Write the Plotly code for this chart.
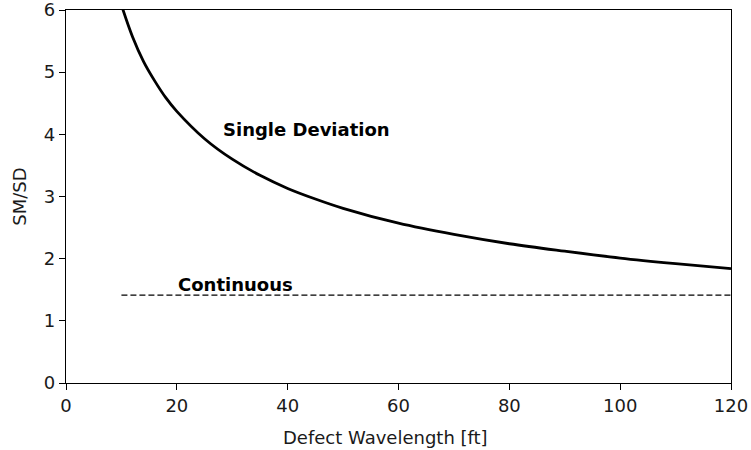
import plotly.graph_objects as go

# Data
wavelength_ft = [10, 12, 14, 16, 18, 20, 25, 30, 35, 40, 45, 50, 60, 70, 80, 90, 100, 110, 120]
single_deviation = [6.08, 5.57, 5.17, 4.86, 4.59, 4.37, 3.93, 3.60, 3.34, 3.13, 2.96, 2.81,
                    2.57, 2.39, 2.24, 2.12, 2.01, 1.92, 1.84]
continuous_x = [10, 120]
continuous_y = [1.414, 1.414]

x_ticks = [0, 20, 40, 60, 80, 100, 120]
y_ticks = [0, 1, 2, 3, 4, 5, 6]

font_family = "DejaVu Sans"
text_color = "#1a1a1a"

fig = go.Figure()
fig.add_trace(go.Scatter(x=wavelength_ft, y=single_deviation, mode="lines",
                         line=dict(color="black", width=2.8, shape="spline"),
                         showlegend=False, hoverinfo="skip"))
fig.add_trace(go.Scatter(x=continuous_x, y=continuous_y, mode="lines",
                         line=dict(color="black", width=1.4, dash="6px,3px"),
                         showlegend=False, hoverinfo="skip"))

fig.add_annotation(x=28, y=4.07, text="<b>Single Deviation</b>", showarrow=False,
                   xanchor="left", yanchor="middle",
                   font=dict(family=font_family, size=18, color="black"))
fig.add_annotation(x=19.8, y=1.59, text="<b>Continuous</b>", showarrow=False,
                   xanchor="left", yanchor="middle",
                   font=dict(family=font_family, size=18, color="black"))
# x-axis title (placed as in the reference, slightly left of centre)
fig.add_annotation(x=0.48, y=-0.145, xref="paper", yref="paper",
                   text="Defect Wavelength [ft]", showarrow=False,
                   xanchor="center", yanchor="middle",
                   font=dict(family=font_family, size=18, color=text_color))

axis_common = dict(showgrid=False, zeroline=False, showline=True, linecolor="black",
                   linewidth=1.3, mirror=True, ticks="outside", ticklen=6, tickwidth=1.3,
                   tickcolor="black", automargin=False, ticklabeloverflow="allow",
                   tickfont=dict(family=font_family, size=18, color=text_color))

fig.update_xaxes(range=[0, 120], tickvals=x_ticks, ticktext=[str(v) for v in x_ticks],
                 **axis_common)
fig.update_yaxes(range=[0, 6], tickvals=y_ticks, ticktext=[str(v) for v in y_ticks],
                 title=dict(text="SM/SD", standoff=12,
                            font=dict(family=font_family, size=18, color=text_color)),
                 **axis_common)

fig.update_layout(width=751, height=450, margin=dict(l=66, r=20, t=10, b=67),
                  plot_bgcolor="white", paper_bgcolor="white",
                  font=dict(family=font_family, size=18, color=text_color))

fig.write_html("out.html", config={"displayModeBar": False},
               post_script="document.body.style.margin='0';")
